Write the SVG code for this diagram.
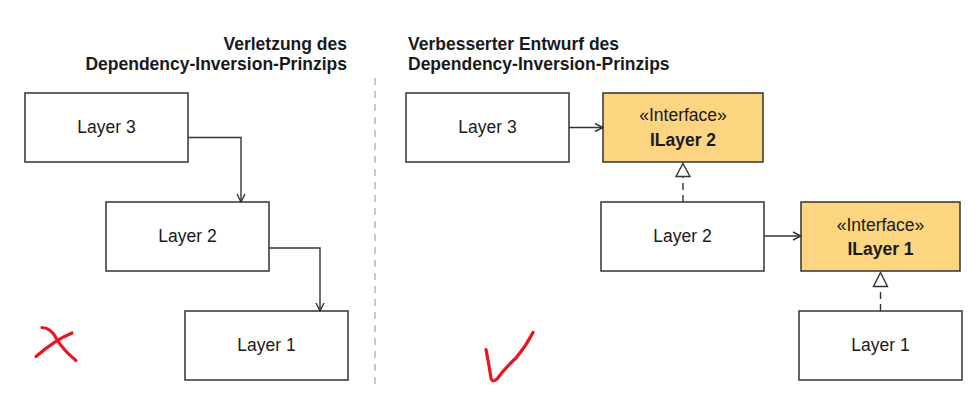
<svg xmlns="http://www.w3.org/2000/svg" width="979" height="402" viewBox="0 0 979 402">
<defs>
<style>
.box{fill:#fff;stroke:#333;stroke-width:1.5}
.iface{fill:#FDD47F;stroke:#333;stroke-width:1.5}
.t{font-family:"Liberation Sans",Arial,sans-serif;font-size:17.5px;fill:#1a1a1a;text-anchor:middle}
.b{font-weight:bold}
.title{font-family:"Liberation Sans",Arial,sans-serif;font-size:17.5px;font-weight:bold;fill:#1a1a1a}
.con{fill:none;stroke:#333;stroke-width:1.4}
.dash{fill:none;stroke:#333;stroke-width:1.4;stroke-dasharray:7,5}
.red{fill:none;stroke:#E8161E;stroke-width:3.2;stroke-linecap:round;stroke-linejoin:round}
</style>
<marker id="open" viewBox="0 0 10 10" refX="9" refY="5" markerWidth="10" markerHeight="10" markerUnits="userSpaceOnUse" orient="auto">
<path d="M1,1 L9,5 L1,9" fill="none" stroke="#333" stroke-width="1.4"/>
</marker>
</defs>
<rect width="979" height="402" fill="#fff"/>
<text class="title" text-anchor="end" x="347" y="50">Verletzung des</text>
<text class="title" text-anchor="end" x="347" y="70">Dependency-Inversion-Prinzips</text>
<text class="title" x="408" y="50">Verbesserter Entwurf des</text>
<text class="title" x="408" y="70">Dependency-Inversion-Prinzips</text>
<line x1="375" y1="78" x2="375" y2="386" stroke="#bbb" stroke-width="1.6" stroke-dasharray="7,6"/>
<g id="left-layer3"><rect class="box" x="25" y="93" width="163" height="69"/><text class="t" x="106.5" y="133">Layer 3</text></g>
<g id="left-layer2"><rect class="box" x="106" y="202" width="163" height="69"/><text class="t" x="187.5" y="242">Layer 2</text></g>
<g id="left-layer1"><rect class="box" x="185" y="311" width="163" height="69"/><text class="t" x="266.5" y="351">Layer 1</text></g>
<g id="right-layer3"><rect class="box" x="406" y="93" width="163" height="69"/><text class="t" x="487.5" y="133">Layer 3</text></g>
<g id="ilayer2"><rect class="iface" x="603" y="93" width="160" height="69"/><text class="t" x="683" y="121">«Interface»</text><text class="t b" x="683" y="146">ILayer 2</text></g>
<g id="right-layer2"><rect class="box" x="601" y="202" width="163" height="69"/><text class="t" x="682.5" y="242">Layer 2</text></g>
<g id="ilayer1"><rect class="iface" x="801" y="202" width="159" height="69"/><text class="t" x="880.5" y="231">«Interface»</text><text class="t b" x="880.5" y="255">ILayer 1</text></g>
<g id="right-layer1"><rect class="box" x="799" y="311" width="163" height="69"/><text class="t" x="880.5" y="351">Layer 1</text></g>
<g id="connectors">
<path class="con" d="M188,137.5 H241 V202" marker-end="url(#open)"/>
<path class="con" d="M269,248 H320 V311" marker-end="url(#open)"/>
<path class="con" d="M569,127.5 H603" marker-end="url(#open)"/>
<path class="con" d="M764,236 H801" marker-end="url(#open)"/>
<path class="dash" d="M683,202 V177"/>
<path d="M683,163.5 L690,176.5 L676,176.5 Z" fill="#fff" stroke="#333" stroke-width="1.4"/>
<path class="dash" d="M880.5,311 V287"/>
<path d="M880.5,272.5 L887.5,286.5 L873.5,286.5 Z" fill="#fff" stroke="#333" stroke-width="1.4"/>
</g>
<path class="red" d="M36,356.5 Q55,340 72,333"/>
<path class="red" d="M42,327.5 Q51,328 56,338 Q63,350 76,360.5"/>
<path class="red" d="M486,349.5 Q489,365 491,378 Q492,383 497,379 Q505,368 516,358 Q526,346 533,332.5"/>
</svg>
